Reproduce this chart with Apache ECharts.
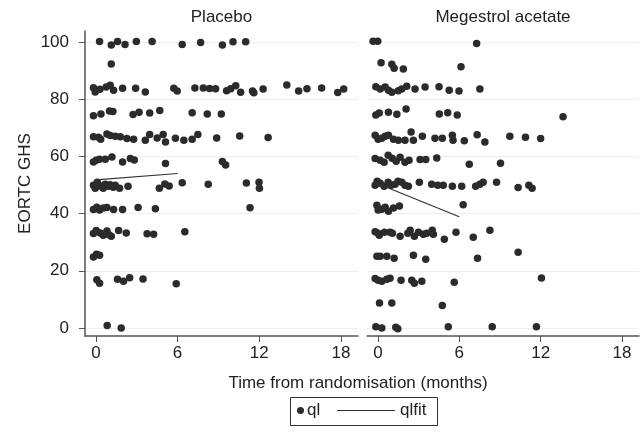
<!DOCTYPE html>
<html><head><meta charset="utf-8">
<script src="https://cdn.jsdelivr.net/npm/echarts@6/dist/echarts.min.js"></script>
<style>html,body{margin:0;padding:0;background:#fff}#c{width:644px;height:442px}</style>
</head><body><div id="c"></div>
<script>
const panelTitles = ['Placebo', 'Megestrol acetate'];
const xAxisTitle = 'Time from randomisation (months)';
const yAxisTitle = 'EORTC GHS';
const xTicks = [0, 6, 12, 18];
const yTicks = [0, 20, 40, 60, 80, 100];
const seriesNames = ['ql', 'qlfit'];

// [months, score]
const placeboPoints = [
  [0.27,100.1],[1.13,98.9],[1.59,100.1],[2.14,99.1],[2.97,100.1],[4.13,100.1],[6.34,99.1],[7.69,99.8],[9.29,98.9],[10.07,100.0],[11.0,100.0],
  [1.13,92.3],
  [-0.18,84.0],[-0.05,82.5],[0.3,83.4],[0.76,84.2],[1.05,84.8],[1.3,83.1],[1.96,83.8],[2.92,83.8],[3.63,82.5],[5.72,83.8],[5.97,82.8],[7.27,83.9],[7.89,83.9],[8.35,83.7],[8.79,83.6],[9.6,82.9],[9.9,83.6],[10.27,84.7],[10.63,82.4],[11.5,82.8],[11.6,82.2],[12.28,83.5],[14.02,84.9],[14.89,82.8],[15.5,83.6],[16.58,83.9],[17.76,82.3],[18.2,83.5],
  [-0.18,74.2],[0.37,74.8],[1.0,75.8],[1.25,75.7],[2.73,74.6],[3.17,75.4],[3.95,75.1],[4.69,76.0],[7.07,75.2],[8.18,74.8],[9.21,74.8],
  [-0.18,66.8],[0.19,66.7],[0.35,66.0],[0.81,67.8],[1.05,67.3],[1.42,67.0],[1.79,66.8],[2.28,66.2],[2.77,66.0],[3.63,65.6],[3.95,67.6],[4.5,66.4],[4.94,67.6],[5.11,65.0],[5.84,66.3],[6.46,65.6],[7.07,66.0],[7.49,67.6],[8.87,66.4],[10.56,67.1],[12.65,66.6],
  [-0.18,58.0],[0.02,58.6],[0.27,59.0],[0.69,59.0],[1.18,59.8],[1.96,58.0],[2.53,59.2],[2.82,58.7],[5.11,57.5],[9.29,58.2],[9.53,57.0],
  [-0.18,49.9],[-0.05,48.8],[0.1,50.9],[0.32,49.6],[0.54,48.8],[0.69,50.2],[0.91,49.5],[1.05,50.1],[1.27,49.2],[1.42,49.9],[1.74,48.8],[2.36,49.5],[4.66,48.8],[5.06,50.3],[5.38,49.6],[6.34,50.8],[8.25,50.2],[11.05,50.7],[11.98,50.9],[12.01,48.8],[11.32,42.0],
  [-0.18,41.4],[0.07,42.2],[0.27,41.2],[0.54,41.9],[0.81,42.1],[1.3,41.4],[1.96,41.4],[3.1,42.1],[4.37,41.7],
  [-0.18,33.0],[0.02,34.1],[0.32,33.2],[0.54,32.4],[0.81,33.9],[0.93,32.7],[1.13,32.1],[1.67,34.1],[2.23,33.2],[3.76,32.9],[4.24,32.8],[6.53,33.6],
  [-0.18,24.8],[0.05,25.8],[0.27,25.4],
  [0.07,16.9],[0.27,15.6],[1.59,17.0],[2.03,16.3],[2.48,17.6],[3.46,17.1],[5.9,15.5],
  [0.83,0.9],[1.86,0.0]
];
const megestrolPoints = [
  [-0.35,100.2],[-0.01,100.2],[7.28,99.4],
  [0.24,92.7],[1.03,92.2],[1.2,90.8],[1.88,90.5],[6.13,91.3],
  [-0.15,84.3],[0.17,83.5],[0.54,84.2],[0.78,83.1],[1.03,82.4],[1.51,82.9],[1.76,83.5],[2.13,84.5],[2.74,83.5],[3.48,84.2],[4.51,84.3],[5.26,83.1],[5.98,82.8],[7.52,83.5],
  [-0.15,74.4],[0.1,75.1],[0.78,75.4],[1.4,74.7],[2.08,76.5],[4.53,74.8],[5.15,75.2],[5.85,74.4],[13.65,73.8],
  [-0.2,67.4],[0.02,66.0],[0.29,66.3],[0.54,67.0],[0.78,67.4],[1.15,66.0],[1.51,65.6],[2.0,65.6],[2.45,68.5],[2.62,65.6],[3.28,67.0],[4.21,66.3],[4.75,66.3],[5.49,67.4],[5.54,65.6],[6.37,65.4],[7.32,67.5],[7.89,65.0],[9.73,67.0],[10.88,66.7],[12.0,66.2],
  [-0.2,59.2],[0.17,58.6],[0.46,57.9],[0.76,60.4],[1.05,59.3],[1.35,58.3],[1.64,59.7],[2.0,57.9],[2.3,58.6],[3.11,58.9],[3.53,58.9],[4.34,59.4],[6.74,57.2],[9.04,57.6],
  [-0.2,49.9],[-0.05,51.3],[0.17,50.6],[0.46,49.5],[0.76,50.9],[0.98,49.9],[1.27,50.2],[1.49,51.3],[1.76,50.9],[2.0,49.9],[2.25,49.5],[3.06,50.9],[3.97,50.2],[4.41,49.9],[4.82,49.9],[5.49,49.5],[6.18,49.5],[7.21,49.5],[7.52,50.2],[7.76,50.9],[8.75,50.9],[10.34,49.1],[11.13,49.9],[11.37,48.8],
  [-0.07,42.9],[0.02,41.2],[0.29,41.5],[0.54,42.2],[0.78,40.8],[1.15,41.9],[1.59,42.6],[6.29,43.1],
  [-0.2,33.6],[0.02,33.1],[0.1,32.4],[0.49,33.5],[0.9,33.5],[1.07,33.1],[1.64,32.1],[2.21,33.1],[2.38,34.2],[2.69,32.1],[2.99,33.5],[3.35,32.8],[3.6,33.1],[4.01,34.2],[4.09,32.8],[4.9,31.0],[5.76,33.5],[7.03,31.7],[8.26,34.2],
  [-0.07,25.1],[0.17,25.1],[0.66,25.1],[1.2,24.4],[2.62,25.4],[3.53,24.0],[7.35,24.4],[10.34,26.5],
  [-0.2,17.3],[0.02,16.7],[0.29,16.3],[0.66,17.0],[0.9,17.4],[1.71,16.7],[2.5,16.7],[2.69,15.6],[3.24,16.3],[5.63,16.0],[12.06,17.5],
  [0.12,8.7],[1.03,8.7],[4.75,7.9],
  [-0.15,0.4],[0.29,0.0],[1.32,0.3],[1.47,-0.3],[5.19,0.4],[8.43,0.4],[11.69,0.4]
];
const placeboFit = [[0, 51.8], [6, 54.0]];
const megestrolFit = [[0, 50.4], [6, 38.9]];

const FONT = "'Liberation Sans', Arial, Helvetica, sans-serif";
const TXT = '#222';
const AX = '#555';
const DOT = '#2b2b2b';

const grids = [
  {left: 85, top: 31, width: 273, height: 305},
  {left: 367, top: 31, width: 272, height: 305}
];
function xAxisFor(i) {
  return {
    type: 'value', gridIndex: i, min: -0.8, max: 19.25,
    axisLine: {show: true, onZero: false, lineStyle: {color: AX, width: 1.5}},
    axisTick: {show: true, length: 6, customValues: xTicks, lineStyle: {color: AX, width: 1}},
    axisLabel: {show: true, customValues: xTicks, fontSize: 17, color: TXT, fontFamily: FONT, margin: 9},
    splitLine: {show: false}
  };
}
function yAxisFor(i) {
  const base = {
    type: 'value', gridIndex: i, min: -2.8, max: 103.8,
    splitLine: {show: false}
  };
  if (i === 0) {
    return Object.assign(base, {
      name: yAxisTitle, nameLocation: 'middle', nameGap: 51, nameRotate: 90,
      nameTextStyle: {fontSize: 17, color: TXT, fontFamily: FONT},
      axisLine: {show: true, onZero: false, lineStyle: {color: AX, width: 1.5}},
      axisTick: {show: true, length: 6, customValues: yTicks, lineStyle: {color: AX, width: 1}},
      axisLabel: {show: true, customValues: yTicks, fontSize: 17, color: TXT, fontFamily: FONT, margin: 16}
    });
  }
  return Object.assign(base, {
    axisLine: {show: false}, axisTick: {show: false}, axisLabel: {show: false}
  });
}
function gridLinesSeries(i) {
  return {
    type: 'scatter', xAxisIndex: i, yAxisIndex: i, data: [], silent: true, z: 0,
    markLine: {
      silent: true, symbol: ['none', 'none'], z: 0, animation: false,
      label: {show: false},
      lineStyle: {color: '#eeeeee', width: 1, type: 'solid'},
      emphasis: {disabled: true},
      data: yTicks.map(v => ({yAxis: v}))
    }
  };
}
function scatterSeries(i, pts) {
  return {
    name: seriesNames[0], type: 'scatter', xAxisIndex: i, yAxisIndex: i,
    data: pts, symbol: 'circle', symbolSize: 7.5, z: 3,
    itemStyle: {color: DOT, opacity: 1}, animation: false
  };
}
function fitSeries(i, pts) {
  return {
    name: seriesNames[1], type: 'line', xAxisIndex: i, yAxisIndex: i,
    data: pts, symbol: 'none', showSymbol: false, z: 4,
    lineStyle: {color: '#333', width: 1.2}, itemStyle: {color: '#333'}, animation: false
  };
}

const chart = echarts.init(document.getElementById('c'), null, {renderer: 'canvas'});
chart.setOption({
  animation: false,
  backgroundColor: '#fff',
  title: [
    {text: panelTitles[0], left: 221.5, top: 9, textAlign: 'center', padding: 0,
     textStyle: {fontSize: 17, fontWeight: 'normal', color: TXT, fontFamily: FONT}},
    {text: panelTitles[1], left: 503, top: 9, textAlign: 'center', padding: 0,
     textStyle: {fontSize: 17, fontWeight: 'normal', color: TXT, fontFamily: FONT}},
    {text: xAxisTitle, left: 358, top: 375, textAlign: 'center', padding: 0,
     textStyle: {fontSize: 17, fontWeight: 'normal', color: TXT, fontFamily: FONT}}
  ],
  legend: [
    {data: [seriesNames[0]], left: 297, top: 402, padding: 0, itemWidth: 7, itemHeight: 7, icon: 'circle',
     itemGap: 0, selectedMode: false, textStyle: {fontSize: 17, color: TXT, fontFamily: FONT, padding: [0, 0, 0, -2]}},
    {data: [{name: seriesNames[1], icon: 'rect', itemStyle: {color: '#333'}}], left: 337, top: 402, padding: 0,
     itemWidth: 58, itemHeight: 1.2, itemGap: 0, selectedMode: false,
     textStyle: {fontSize: 17, color: TXT, fontFamily: FONT}}
  ],
  graphic: [
    {type: 'rect', shape: {x: 290.5, y: 397.5, width: 147, height: 28}, silent: true,
     style: {fill: 'none', stroke: '#333', lineWidth: 1}}
  ],
  grid: grids,
  xAxis: [xAxisFor(0), xAxisFor(1)],
  yAxis: [yAxisFor(0), yAxisFor(1)],
  series: [
    gridLinesSeries(0), gridLinesSeries(1),
    scatterSeries(0, placeboPoints), scatterSeries(1, megestrolPoints),
    fitSeries(0, placeboFit), fitSeries(1, megestrolFit)
  ]
});
</script>
</body></html>
